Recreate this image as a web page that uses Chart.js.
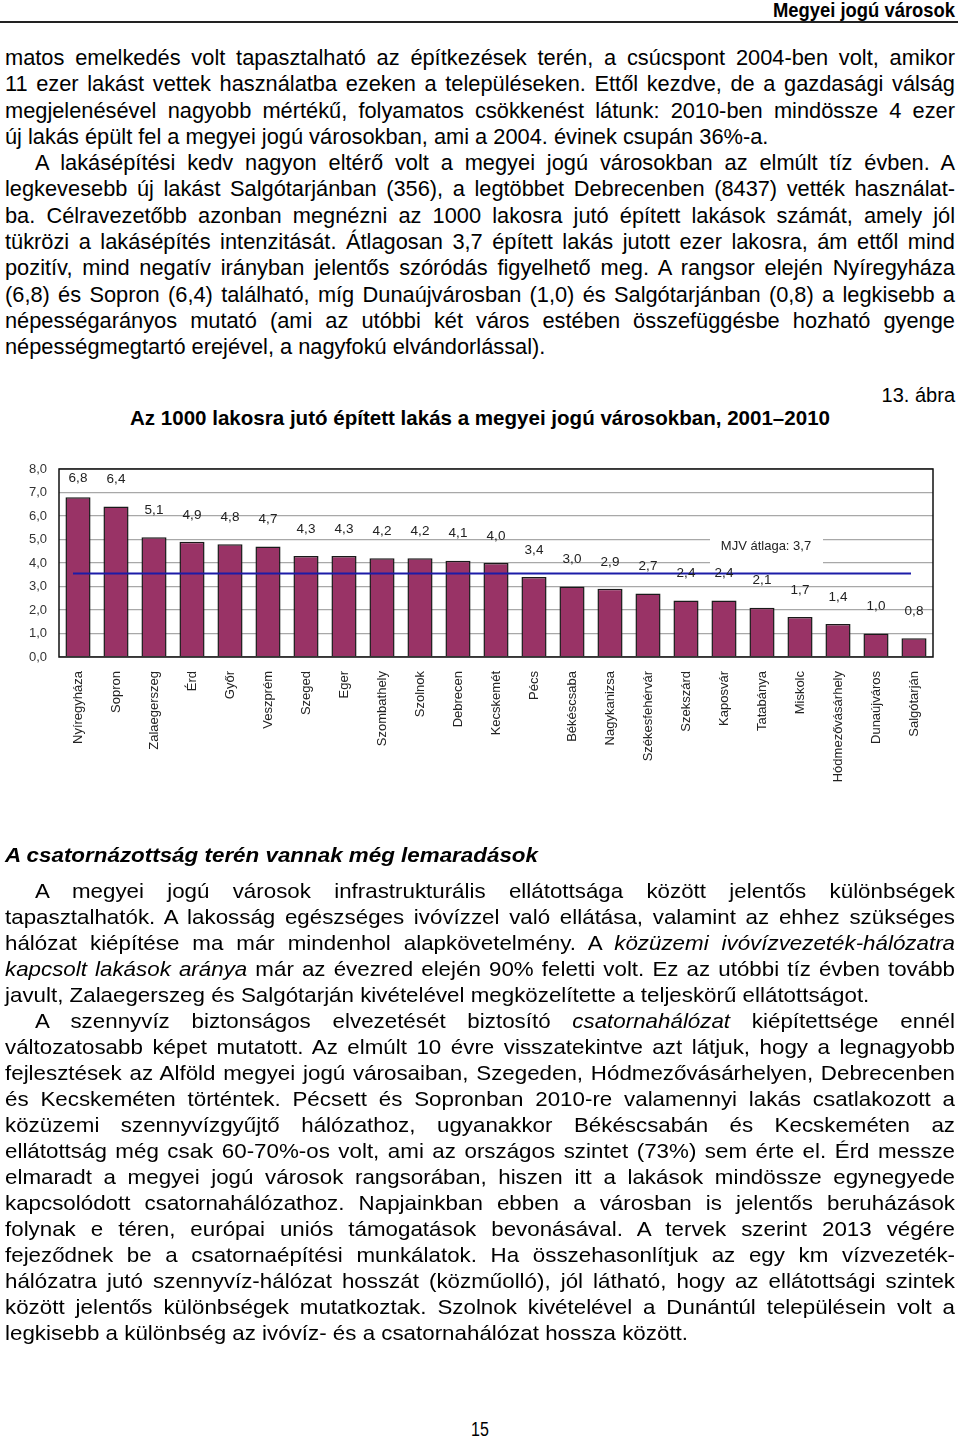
<!DOCTYPE html>
<html lang="hu">
<head>
<meta charset="utf-8">
<script src="https://cdn.jsdelivr.net/npm/chart.js@4.4.0/dist/chart.umd.min.js"></script>
<style>
  body { margin: 0; width: 960px; height: 1440px; position: relative; background: #fff; color: #000;
         font-family: "Liberation Sans", Arial, sans-serif; overflow: hidden; }
  .fit { position: absolute; white-space: nowrap; display: inline-block; transform-origin: left center; line-height: 24px; }
  .hdr { left: 773px; top: -2px; font-weight: bold; font-size: 21px; }
  .ttl { left: 130px; top: 406px; font-weight: bold; font-size: 21px; }
  .fig { position: absolute; right: 5px; top: 383px; font-size: 20px; line-height: 24px; }
  .h2 { left: 5px; top: 843px; font-weight: bold; font-style: italic; font-size: 21px; }
  .pg { position: absolute; left: 0; width: 960px; top: 1418px; text-align: center; font-size: 20px;
        transform: scaleX(0.8); }
  .rule { position: absolute; left: 0; top: 21px; width: 958px; height: 2px; background: #222; }
  .blk { position: absolute; left: 5px; width: 950px; }
  .top { top: 45px; font-size: 21.8px; }
  .top .ln { height: 26.3px; line-height: 26.3px; }
  .bot { top: 878px; font-size: 21px; }
  .bot .ln { height: 26px; line-height: 26px; }
  .ln { white-space: nowrap; }
  .ln .t { display: inline-block; white-space: nowrap; transform-origin: left center; }
  .ind { padding-left: 30px; }
  #wrap { position: absolute; left: 0; top: 440px; width: 960px; height: 700px; }
</style>
</head>
<body>
<div class="fit hdr" data-w="182">Megyei jogú városok</div>
<div class="rule"></div>

<div class="blk top" data-s="1">
<div class="ln">matos emelkedés volt tapasztalható az építkezések terén, a csúcspont 2004-ben volt, amikor</div>
<div class="ln">11 ezer lakást vettek használatba ezeken a településeken. Ettől kezdve, de a gazdasági válság</div>
<div class="ln">megjelenésével nagyobb mértékű, folyamatos csökkenést látunk: 2010-ben mindössze 4 ezer</div>
<div class="ln end">új lakás épült fel a megyei jogú városokban, ami a 2004. évinek csupán 36%-a.</div>
<div class="ln ind">A lakásépítési kedv nagyon eltérő volt a megyei jogú városokban az elmúlt tíz évben. A</div>
<div class="ln">legkevesebb új lakást Salgótarjánban (356), a legtöbbet Debrecenben (8437) vették használat-</div>
<div class="ln">ba. Célravezetőbb azonban megnézni az 1000 lakosra jutó épített lakások számát, amely jól</div>
<div class="ln">tükrözi a lakásépítés intenzitását. Átlagosan 3,7 épített lakás jutott ezer lakosra, ám ettől mind</div>
<div class="ln">pozitív, mind negatív irányban jelentős szóródás figyelhető meg. A rangsor elején Nyíregyháza</div>
<div class="ln">(6,8) és Sopron (6,4) található, míg Dunaújvárosban (1,0) és Salgótarjánban (0,8) a legkisebb a</div>
<div class="ln">népességarányos mutató (ami az utóbbi két város estében összefüggésbe hozható gyenge</div>
<div class="ln end">népességmegtartó erejével, a nagyfokú elvándorlással).</div>
</div>

<div class="fig">13. ábra</div>
<div class="fit ttl" data-w="700">Az 1000 lakosra jutó épített lakás a megyei jogú városokban, 2001–2010</div>

<div id="wrap"><canvas id="c" width="960" height="700"></canvas></div>

<div class="fit h2" data-w="533">A csatornázottság terén vannak még lemaradások</div>
<div class="blk bot" data-ref="683">
<div class="ln ind">A megyei jogú városok infrastrukturális ellátottsága között jelentős különbségek</div>
<div class="ln">tapasztalhatók. A lakosság egészséges ivóvízzel való ellátása, valamint az ehhez szükséges</div>
<div class="ln">hálózat kiépítése ma már mindenhol alapkövetelmény. A <i>közüzemi ivóvízvezeték-hálózatra</i></div>
<div class="ln"><i>kapcsolt lakások aránya</i> már az évezred elején 90% feletti volt. Ez az utóbbi tíz évben tovább</div>
<div class="ln end">javult, Zalaegerszeg és Salgótarján kivételével megközelítette a teljeskörű ellátottságot.</div>
<div class="ln ind">A szennyvíz biztonságos elvezetését biztosító <i>csatornahálózat</i> kiépítettsége ennél</div>
<div class="ln">változatosabb képet mutatott. Az elmúlt 10 évre visszatekintve azt látjuk, hogy a legnagyobb</div>
<div class="ln">fejlesztések az Alföld megyei jogú városaiban, Szegeden, Hódmezővásárhelyen, Debrecenben</div>
<div class="ln">és Kecskeméten történtek. Pécsett és Sopronban 2010-re valamennyi lakás csatlakozott a</div>
<div class="ln">közüzemi szennyvízgyűjtő hálózathoz, ugyanakkor Békéscsabán és Kecskeméten az</div>
<div class="ln">ellátottság még csak 60-70%-os volt, ami az országos szintet (73%) sem érte el. Érd messze</div>
<div class="ln">elmaradt a megyei jogú városok rangsorában, hiszen itt a lakások mindössze egynegyede</div>
<div class="ln">kapcsolódott csatornahálózathoz. Napjainkban ebben a városban is jelentős beruházások</div>
<div class="ln">folynak e téren, európai uniós támogatások bevonásával. A tervek szerint 2013 végére</div>
<div class="ln">fejeződnek be a csatornaépítési munkálatok. Ha összehasonlítjuk az egy km vízvezeték-</div>
<div class="ln">hálózatra jutó szennyvíz-hálózat hosszát (közműolló), jól látható, hogy az ellátottsági szintek</div>
<div class="ln">között jelentős különbségek mutatkoztak. Szolnok kivételével a Dunántúl településein volt a</div>
<div class="ln end ref">legkisebb a különbség az ivóvíz- és a csatornahálózat hossza között.</div>
</div>

<div class="pg">15</div>

<script>
// 1000 lakosra jutó épített lakás, 2001-2010
const cities = ['Nyíregyháza', 'Sopron', 'Zalaegerszeg', 'Érd', 'Győr', 'Veszprém', 'Szeged', 'Eger',
  'Szombathely', 'Szolnok', 'Debrecen', 'Kecskemét', 'Pécs', 'Békéscsaba', 'Nagykanizsa',
  'Székesfehérvár', 'Szekszárd', 'Kaposvár', 'Tatabánya', 'Miskolc', 'Hódmezővásárhely',
  'Dunaújváros', 'Salgótarján'];
const dwellings = [6.8, 6.4, 5.1, 4.9, 4.8, 4.7, 4.3, 4.3, 4.2, 4.2, 4.1, 4.0, 3.4, 3.0, 2.9, 2.7,
  2.4, 2.4, 2.1, 1.7, 1.4, 1.0, 0.8];
const yTicks = [0, 1, 2, 3, 4, 5, 6, 7, 8];
const avgLevel = 3.55;           // ahol a kék vonal a képen fut
const avgText = 'MJV átlaga: 3,7';

// --- szöveg: sorkizárás soronként, a keskeny betűt vízszintes nyújtással utánozzuk
function fitBoxes() {
  document.querySelectorAll('.fit').forEach(el => {
    const w = el.getBoundingClientRect().width;
    el.style.transform = 'scaleX(' + (+el.dataset.w / w) + ')';
  });
}

function justifyBlock(blk) {
  const lines = [...blk.querySelectorAll('.ln')];
  lines.forEach(ln => { ln.innerHTML = '<span class="t">' + ln.innerHTML + '</span>'; });
  let s = +blk.dataset.s || 1;
  const refLine = blk.querySelector('.ref .t');
  if (refLine) s = +blk.dataset.ref / refLine.getBoundingClientRect().width;
  lines.forEach(ln => {
    const t = ln.firstChild;
    const avail = 950 - (ln.classList.contains('ind') ? 30 : 0);
    const natural = t.getBoundingClientRect().width;
    let k = s;
    if (!ln.classList.contains('end')) {
      const gaps = (t.textContent.match(/ /g) || []).length;
      const extra = avail / s - natural;
      if (extra > 0 && gaps) t.style.wordSpacing = (extra / gaps) + 'px';
      else k = avail / natural;
    }
    t.style.transform = 'scaleX(' + k + ')';
  });
}

fitBoxes();
document.querySelectorAll('.blk').forEach(justifyBlock);

// --- diagram
const fmt = v => v.toFixed(1).replace('.', ',');
const FONT = '"Liberation Sans", Arial, sans-serif';

// átlagvonal, felirat, értékcímkék, keret
const marks = {
  id: 'marks',
  beforeDatasetsDraw(chart) {
    const { ctx, scales: { x, y } } = chart;
    // a felirat fehér háttere kitakarja a rácsvonalakat
    const cx = x.getPixelForValue(18) + 4;
    const t = y.getPixelForValue(5.25), b = y.getPixelForValue(3.85);
    ctx.save();
    ctx.fillStyle = '#fff';
    ctx.fillRect(cx - 56, t, 113, b - t);
    ctx.restore();
  },
  afterDatasetsDraw(chart) {
    const { ctx, chartArea: a, scales: { x, y } } = chart;
    ctx.save();
    const ay = y.getPixelForValue(avgLevel);
    ctx.strokeStyle = '#1c1ca8';
    ctx.lineWidth = 2;
    ctx.beginPath();
    ctx.moveTo(x.getPixelForValue(0) - 5, ay);
    ctx.lineTo(x.getPixelForValue(cities.length - 1) - 3, ay);
    ctx.stroke();

    ctx.fillStyle = '#222';
    ctx.textAlign = 'center';
    ctx.textBaseline = 'middle';
    ctx.font = '13px ' + FONT;
    ctx.fillText(avgText, x.getPixelForValue(18) + 4, y.getPixelForValue(4.72));

    ctx.font = '13.5px ' + FONT;
    dwellings.forEach((v, i) => {
      const py = Math.max(a.top + 9, y.getPixelForValue(v) - 27);
      ctx.fillText(fmt(v), x.getPixelForValue(i), py);
    });

    ctx.strokeStyle = '#111';
    ctx.lineWidth = 1.5;
    ctx.strokeRect(a.left, a.top, a.right - a.left, a.bottom - a.top);
    ctx.restore();
  }
};

new Chart(document.getElementById('c'), {
  type: 'bar',
  data: {
    labels: cities,
    datasets: [{
      data: dwellings,
      backgroundColor: '#993366',
      borderColor: '#1a1a1a',
      borderWidth: 1.5,
      barPercentage: 0.66,
      categoryPercentage: 1
    }]
  },
  options: {
    responsive: false,
    animation: false,
    layout: { padding: { top: 29, right: 27, left: 0, bottom: 0 } },
    plugins: { legend: { display: false }, tooltip: { enabled: false } },
    scales: {
      x: {
        grid: { display: false, drawTicks: false },
        border: { display: false },
        ticks: {
          color: '#222', font: { family: FONT, size: 13 },
          minRotation: 90, maxRotation: 90, autoSkip: false, padding: 14
        },
        afterFit: s => { s.height = 483; }
      },
      y: {
        min: 0, max: 8,
        afterBuildTicks: s => { s.ticks = yTicks.map(v => ({ value: v })); },
        grid: { color: '#a8a8a8', lineWidth: 1.3, drawTicks: false },
        border: { display: false },
        ticks: { color: '#333', font: { family: FONT, size: 13 }, padding: 12, callback: v => fmt(v) },
        afterFit: s => { s.width = 59; }
      }
    }
  },
  plugins: [marks]
});
</script>
</body>
</html>
